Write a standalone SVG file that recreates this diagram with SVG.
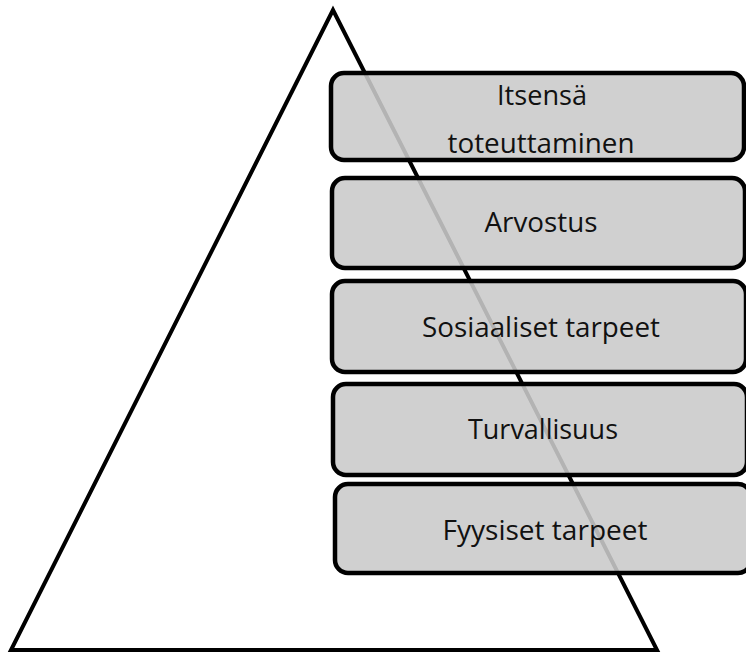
<svg xmlns="http://www.w3.org/2000/svg" width="746" height="652" viewBox="0 0 746 652">
<style>
.box{fill:#cacaca;fill-opacity:0.886;stroke:#000;stroke-width:4.5}
.lbl{font-family:"Open Sans","Liberation Sans",sans-serif;font-size:27px;fill:#111;text-anchor:middle}
</style>
<rect width="746" height="652" fill="#fff"/>
<g id="triangle">
<polygon points="333,10 11,650 657,650" fill="none" stroke="#000" stroke-width="4" stroke-linejoin="miter"/>
</g>
<g id="n1">
<rect class="box" x="331" y="73" width="413" height="87" rx="13"/>
<text class="lbl" x="542" y="105" textLength="90" lengthAdjust="spacingAndGlyphs">Itsensä</text>
<text class="lbl" x="541" y="153" textLength="187" lengthAdjust="spacingAndGlyphs">toteuttaminen</text>
</g>
<g id="n2">
<rect class="box" x="332" y="178" width="413" height="90" rx="13"/>
<text class="lbl" x="541" y="232" textLength="113" lengthAdjust="spacingAndGlyphs">Arvostus</text>
</g>
<g id="n3">
<rect class="box" x="332" y="281" width="414" height="91" rx="13"/>
<text class="lbl" x="541" y="337" textLength="238" lengthAdjust="spacingAndGlyphs">Sosiaaliset tarpeet</text>
</g>
<g id="n4">
<rect class="box" x="333" y="384" width="414" height="91" rx="13"/>
<text class="lbl" x="543" y="439" textLength="150" lengthAdjust="spacingAndGlyphs">Turvallisuus</text>
</g>
<g id="n5">
<rect class="box" x="335" y="484" width="416" height="89" rx="13"/>
<text class="lbl" x="545" y="540" textLength="205" lengthAdjust="spacingAndGlyphs">Fyysiset tarpeet</text>
</g>
<g id="connectors"/>
</svg>
